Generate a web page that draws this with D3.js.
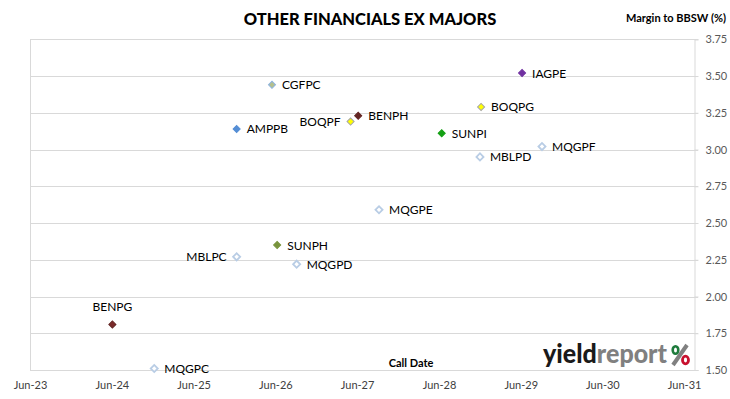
<!DOCTYPE html>
<html>
<head>
<meta charset="utf-8">
<script src="https://cdn.jsdelivr.net/npm/d3@7"></script>
<style>
html,body{margin:0;padding:0;background:#fff;}
svg{display:block;font-family:Lato,"Open Sans",sans-serif;}
</style>
</head>
<body>
<svg id="chart" width="730" height="399"></svg>
<script>
// ---- data ----
const securities = ["CGFPC","AMPPB","BOQPF","BENPH","IAGPE","BOQPG","SUNPI","MQGPF","MBLPD","MQGPE","SUNPH","MBLPC","MQGPD","BENPG","MQGPC"];
const callDates  = ["2026-05-17","2025-12-10","2027-05-03","2027-06-06","2029-06-07","2028-12-06","2028-06-13","2029-09-04","2028-12-01","2027-09-07","2026-06-09","2025-12-10","2026-09-04","2024-06-03","2024-12-07"];
const margins    = [3.44,3.14,3.19,3.23,3.52,3.29,3.11,3.02,2.95,2.59,2.35,2.27,2.22,1.81,1.51];
const yTicks = [1.50,1.75,2.00,2.25,2.50,2.75,3.00,3.25,3.50,3.75];
const xTickLabels = ["Jun-23","Jun-24","Jun-25","Jun-26","Jun-27","Jun-28","Jun-29","Jun-30","Jun-31"];

// ---- styling ----
const markerStyle = {
  CGFPC:{fill:"#b4c08c",stroke:"#8db3e2"},
  AMPPB:{fill:"#558ed5",stroke:"#558ed5"},
  BOQPF:{fill:"#ffff00",stroke:"#a6a6a6"},
  BOQPG:{fill:"#ffff00",stroke:"#a6a6a6"},
  BENPH:{fill:"#632523",stroke:"#632523"},
  BENPG:{fill:"#7b2a2a",stroke:"#632523"},
  IAGPE:{fill:"#7030a0",stroke:"#7030a0"},
  SUNPI:{fill:"#14a014",stroke:"#14a014"},
  SUNPH:{fill:"#77933c",stroke:"#77933c"},
};
const hollow = {fill:"#ffffff",stroke:"#b9cde5"};
const labelSide = {BOQPF:"left",MBLPC:"left",BENPG:"above"};

(function(){
const svg=d3.select("#chart");
const pLeft=30,pRight=694,pTop=39.3,pBottom=370;
const parse=d3.timeParse("%Y-%m-%d");
const x=d3.scaleTime().domain([parse("2023-06-01"),parse("2031-07-15")]).range([pLeft,pRight]);
const y=d3.scaleLinear().domain([1.5,3.75]).range([pBottom,pTop]);

// gridlines
svg.append("g").selectAll("line").data(yTicks).join("line")
  .attr("x1",pLeft).attr("x2",pRight+4)
  .attr("y1",d=>Math.round(y(d))+0.5).attr("y2",d=>Math.round(y(d))+0.5)
  .attr("stroke","#d9d9d9").attr("stroke-width",1);
// left border
svg.append("line").attr("x1",pLeft+0.5).attr("x2",pLeft+0.5).attr("y1",Math.round(pTop)+0.5).attr("y2",pBottom+0.5)
  .attr("stroke","#d9d9d9");
// right axis
const yAxis=d3.axisRight(y).tickValues(yTicks).tickFormat(d3.format(".2f")).tickSize(4).tickPadding(7);
const gy=svg.append("g").attr("transform",`translate(${pRight+0.5},0)`).call(yAxis);
gy.select(".domain").attr("stroke","#d9d9d9");
gy.selectAll(".tick line").attr("stroke","#d9d9d9");
gy.selectAll(".tick text").attr("fill","#595959").style("font-size","11px").style("font-family","Lato,sans-serif");

// x axis labels
const xTickDates=d3.range(2023,2032).map(yr=>new Date(yr,5,1));
const xAxis=d3.axisBottom(x).tickValues(xTickDates).tickFormat((d,i)=>xTickLabels[i]).tickSize(0).tickPadding(11);
const gx=svg.append("g").attr("transform",`translate(0,${pBottom})`).call(xAxis);
gx.select(".domain").remove();
gx.selectAll(".tick text").attr("fill","#404040").style("font-size","11px").style("font-family","Lato,sans-serif");

// title and axis titles
svg.append("text").attr("x",370).attr("y",25).attr("text-anchor","middle")
  .style("font-size","16.5px").style("font-weight","900").attr("fill","#000").text("OTHER FINANCIALS EX MAJORS");
svg.append("text").attr("x",726).attr("y",22).attr("text-anchor","end")
  .style("font-size","11px").style("font-weight","bold").attr("fill","#000").text("Margin to BBSW (%)");
svg.append("text").attr("x",411).attr("y",367).attr("text-anchor","middle")
  .style("font-size","11px").style("font-weight","bold").attr("fill","#000").text("Call Date");

// logo
const logo=svg.append("g");
const lt=logo.append("text").attr("x",543).attr("y",363).style("font-size","26px").style("font-weight","900")
  .attr("textLength",124).attr("lengthAdjust","spacingAndGlyphs");
lt.append("tspan").attr("fill","#1a1a1a").text("yield");
lt.append("tspan").attr("fill","#808080").text("report");
logo.append("line").attr("x1",673).attr("y1",365).attr("x2",687).attr("y2",345).attr("stroke","#808080").attr("stroke-width",4);
logo.append("ellipse").attr("cx",675.5).attr("cy",350).attr("rx",2.8).attr("ry",3.8).attr("fill","none").attr("stroke","#1e7b3c").attr("stroke-width",2.6);
logo.append("ellipse").attr("cx",685.5).attr("cy",360).attr("rx",3).attr("ry",3.8).attr("fill","none").attr("stroke","#c8102e").attr("stroke-width",2.8);

// points
const pts=securities.map((s,i)=>({name:s,date:parse(callDates[i]),v:margins[i]}));
const g=svg.append("g");
g.selectAll("path").data(pts).join("path")
  .attr("d",d3.symbol().type(d3.symbolSquare).size(25))
  .attr("transform",d=>`translate(${x(d.date)},${y(d.v)}) rotate(45)`)
  .attr("fill",d=>(markerStyle[d.name]||hollow).fill)
  .attr("stroke",d=>(markerStyle[d.name]||hollow).stroke)
  .attr("stroke-width",d=>markerStyle[d.name]?1:1.8);

g.selectAll("text").data(pts).join("text")
  .attr("x",d=>{const s=labelSide[d.name]; const px=x(d.date); return s==="left"?px-10:s==="above"?px:px+10;})
  .attr("y",d=>{const s=labelSide[d.name]; const py=y(d.v); return s==="above"?py-13:py+4.5;})
  .attr("text-anchor",d=>{const s=labelSide[d.name]; return s==="left"?"end":s==="above"?"middle":"start";})
  .style("font-size","12px").attr("fill","#000").text(d=>d.name);
})();
</script>
</body>
</html>
